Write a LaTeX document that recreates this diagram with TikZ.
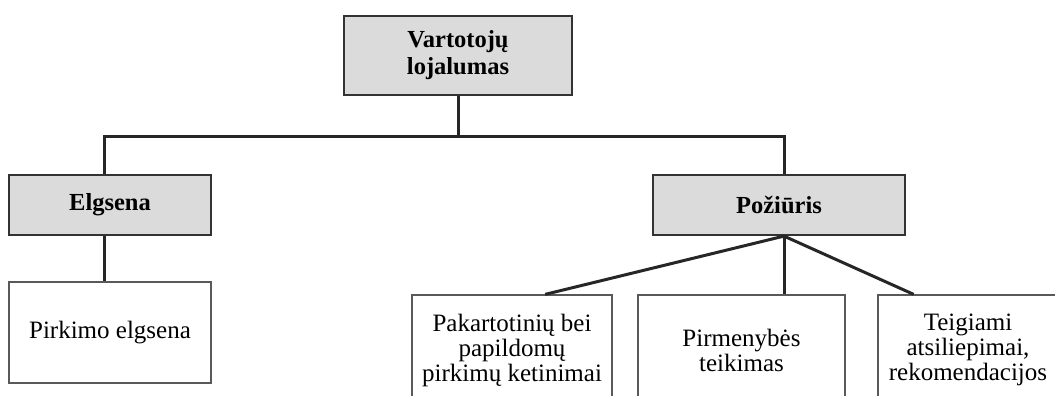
\documentclass[tikz,border=0pt]{standalone}
\usepackage{fontspec}
\setmainfont{Liberation Serif}
\usetikzlibrary{positioning, calc}

\begin{document}
\begin{tikzpicture}[
            x=1pt, y=-1pt,
            head/.style={draw=black!80, line width=2.2pt, fill=black!14, inner sep=0pt,
                         align=center, font=\fontsize{24.5}{27}\selectfont\bfseries},
            leaf/.style={draw=black!65, line width=1.3pt, fill=white, inner sep=0pt,
                         align=center, font=\fontsize{25}{25}\selectfont},
            link/.style={draw=black!85, line width=3pt}
        ]
            \useasboundingbox (0,0) rectangle (1055,396);
            \clip (0,0) rectangle (1055,396);
            % Top level
            \node[head, minimum width=228pt, minimum height=79pt] (loyal) at (458,55.5) {Vartotojų\\lojalumas};
            % Second level
            \node[head, minimum width=202pt, minimum height=60pt] (elg) at (110,205) {Elgsena};
            \node[head, minimum width=252pt, minimum height=60pt] (poz) at (779,205) {Požiūris};
            % Leaves
            \node[leaf, minimum width=202pt, minimum height=101pt] (pirk) at (110,332.5) {Pirkimo elgsena};
            \node[leaf, minimum width=200pt, minimum height=110pt] (ket) at (512,350) {Pakartotinių bei\\papildomų\\pirkimų ketinimai};
            \node[leaf, minimum width=207pt, minimum height=110pt] (pirm) at (741.5,350) {Pirmenybės\\teikimas};
            \node[leaf, minimum width=180pt, minimum height=110pt] (teig) at (968,350) {Teigiami\\atsiliepimai,\\rekomendacijos};
            % Connectors
            \coordinate (busL) at (104,136);
            \coordinate (busR) at (784,136);
            \draw[link] (loyal.south) -- (loyal.south |- busL);
            \draw[link] (elg.north -| busL) -- (busL) -- (busR) -- (poz.north -| busR);
            \draw[link] (elg.south -| busL) -- (pirk.north -| busL);
            \coordinate (hub) at (poz.south -| busR);
            \draw[link] (hub) -- ($(ket.north west)!0.665!(ket.north east)$);
            \draw[link] (hub) -- (pirm.north -| hub);
            \draw[link] (hub) -- ($(teig.north west)!0.2!(teig.north east)$);
        \end{tikzpicture}
\end{document}
